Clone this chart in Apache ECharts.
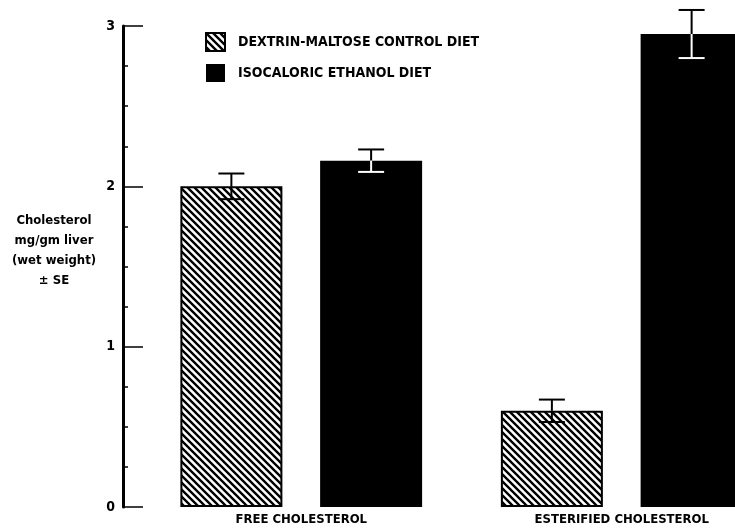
<!DOCTYPE html>
<html>
<head>
<meta charset="utf-8">
<script src="https://cdn.jsdelivr.net/npm/echarts@6/dist/echarts.min.js"></script>
<style>
  html, body { margin: 0; padding: 0; background: #fff; }
  #chart { width: 735px; height: 529px; }
</style>
</head>
<body>
<div id="chart"></div>
<script>
// data
const categories = ['FREE CHOLESTEROL', 'ESTERIFIED CHOLESTEROL']
const seriesNames = ['DEXTRIN-MALTOSE CONTROL DIET', 'ISOCALORIC ETHANOL DIET']
const controlValues = [2.0, 0.6]
const controlErrors = [0.08, 0.07]
const ethanolValues = [2.16, 2.95]
const ethanolErrors = [0.07, 0.15]
const yTicks = [0, 1, 2, 3]

const FONT = 'DejaVu Sans Condensed'
const BAR_W = 102
const BAR_GAP = 0.37

// hatch tile: backslash lines
function hatchPattern () {
  const s = 7
  const c = document.createElement('canvas')
  c.width = s
  c.height = s
  const ctx = c.getContext('2d')
  ctx.fillStyle = '#fff'
  ctx.fillRect(0, 0, s, s)
  ctx.strokeStyle = '#000'
  ctx.lineWidth = 2.4
  ctx.beginPath()
  ctx.moveTo(-1, -1); ctx.lineTo(s + 1, s + 1)
  ctx.moveTo(-1, s - 1); ctx.lineTo(1, s + 1)
  ctx.moveTo(s - 1, -1); ctx.lineTo(s + 1, 1)
  ctx.stroke()
  return c
}

// error bars; side -1 = left bar of the pair, +1 = right bar
function errorSeries (values, errors, side, innerColor) {
  return {
    type: 'custom',
    z: 10,
    silent: true,
    data: values.map((v, i) => [i, v, errors[i]]),
    renderItem (params, api) {
      const i = api.value(0)
      const v = api.value(1)
      const e = api.value(2)
      const off = side * BAR_W * (1 + BAR_GAP) / 2
      const top = api.coord([i, v + e])
      const mid = api.coord([i, v])
      const bot = api.coord([i, v - e])
      const x = top[0] + off
      const cap = 13
      const st = { stroke: '#000', lineWidth: 2 }
      const si = { stroke: innerColor, lineWidth: 2 }
      return {
        type: 'group',
        children: [
          { type: 'line', shape: { x1: x, y1: top[1], x2: x, y2: mid[1] }, style: st },
          { type: 'line', shape: { x1: x - cap, y1: top[1], x2: x + cap, y2: top[1] }, style: st },
          { type: 'line', shape: { x1: x, y1: mid[1], x2: x, y2: bot[1] }, style: si },
          { type: 'line', shape: { x1: x - cap, y1: bot[1], x2: x + cap, y2: bot[1] }, style: si }
        ]
      }
    }
  }
}

const myChart = echarts.init(document.getElementById('chart'))
const option = {
  backgroundColor: '#fff',
  animation: false,
  grid: { left: 141, width: 641, top: 26, bottom: 22, outerBoundsMode: 'none', containLabel: false },
  legend: {
    data: seriesNames,
    icon: 'rect',
    orient: 'vertical',
    left: 200,
    top: 27,
    itemWidth: 19,
    itemHeight: 18,
    itemGap: 12,
    textStyle: { fontFamily: FONT, fontSize: 14, fontWeight: 'bold', color: '#000', padding: [0, 0, 0, 8] }
  },
  xAxis: {
    type: 'category',
    data: categories,
    axisLine: { show: false },
    axisTick: { show: false },
    axisLabel: { color: '#000', fontFamily: FONT, fontSize: 13, fontWeight: 'bold', margin: 6 }
  },
  yAxis: {
    type: 'value',
    min: 0,
    max: 3,
    interval: 1,
    offset: 18,
    axisLine: { show: true, lineStyle: { color: '#000', width: 3 } },
    axisTick: { show: true, inside: true, length: 20, lineStyle: { color: '#000', width: 1.5 } },
    minorTick: { show: true, splitNumber: 4, length: 5, lineStyle: { color: '#000', width: 1.5 } },
    splitLine: { show: false },
    axisLabel: {
      color: '#000',
      fontFamily: FONT,
      fontSize: 14,
      fontWeight: 'bold',
      margin: 8,
      formatter: v => (yTicks.includes(v) ? String(v) : '')
    }
  },
  graphic: [
    {
      type: 'text',
      x: 54,
      y: 211,
      style: {
        text: 'Cholesterol\nmg/gm liver\n(wet weight)\n± SE',
        fontFamily: FONT,
        fontSize: 13,
        fontWeight: 'bold',
        lineHeight: 20,
        fill: '#000',
        align: 'center'
      }
    }
  ],
  series: [
    {
      name: seriesNames[0],
      type: 'bar',
      data: controlValues,
      barWidth: BAR_W,
      barGap: (BAR_GAP * 100) + '%',
      itemStyle: {
        color: { image: hatchPattern(), repeat: 'repeat' },
        borderColor: '#000',
        borderWidth: 2
      }
    },
    {
      name: seriesNames[1],
      type: 'bar',
      data: ethanolValues,
      barWidth: BAR_W,
      barGap: (BAR_GAP * 100) + '%',
      itemStyle: { color: '#000' }
    },
    errorSeries(controlValues, controlErrors, -1, '#000'),
    errorSeries(ethanolValues, ethanolErrors, 1, '#fff')
  ]
}
myChart.setOption(option)
</script>
</body>
</html>
